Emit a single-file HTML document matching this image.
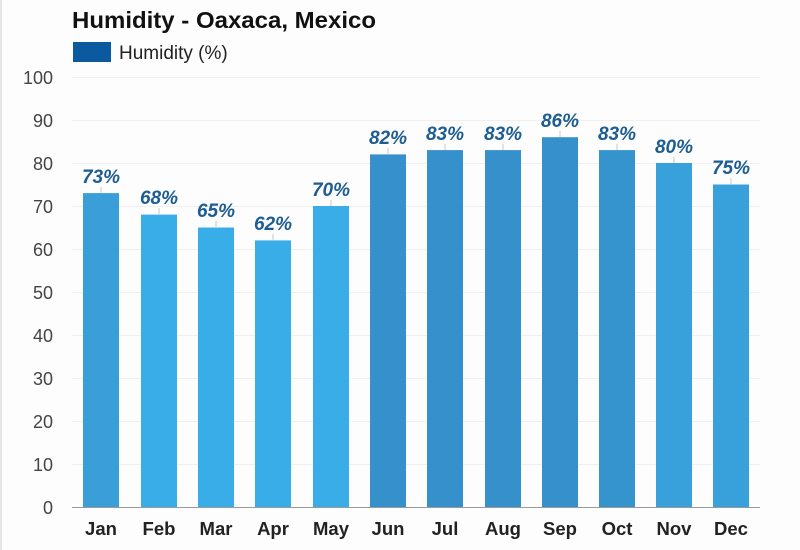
<!DOCTYPE html>
<html><head><meta charset="utf-8"><style>
html,body{margin:0;padding:0;background:#fff;}
svg{display:block;}
text{font-family:"Liberation Sans",Arial,sans-serif;}
</style></head><body>
<svg width="800" height="550" viewBox="0 0 800 550" xmlns="http://www.w3.org/2000/svg">
<rect x="0" y="0" width="800" height="550" fill="#fdfdfd"/>
<rect x="0" y="0" width="2" height="550" fill="#e6e6e6"/>
<text x="72" y="28" font-size="23" font-weight="bold" fill="#111" textLength="304" lengthAdjust="spacingAndGlyphs">Humidity - Oaxaca, Mexico</text>
<rect x="73" y="42" width="38" height="20" fill="#0b5aa0"/>
<text x="119" y="59" font-size="19" fill="#222">Humidity (%)</text>
<g stroke="#efefef" stroke-width="1">
<line x1="72" y1="77.5" x2="760" y2="77.5"/>
<line x1="72" y1="120.5" x2="760" y2="120.5"/>
<line x1="72" y1="163.5" x2="760" y2="163.5"/>
<line x1="72" y1="206.5" x2="760" y2="206.5"/>
<line x1="72" y1="249.5" x2="760" y2="249.5"/>
<line x1="72" y1="292.5" x2="760" y2="292.5"/>
<line x1="72" y1="335.5" x2="760" y2="335.5"/>
<line x1="72" y1="378.5" x2="760" y2="378.5"/>
<line x1="72" y1="421.5" x2="760" y2="421.5"/>
<line x1="72" y1="464.5" x2="760" y2="464.5"/>
</g>
<g font-size="18" fill="#444" text-anchor="end">
<text x="53" y="84">100</text>
<text x="53" y="127">90</text>
<text x="53" y="170">80</text>
<text x="53" y="213">70</text>
<text x="53" y="256">60</text>
<text x="53" y="299">50</text>
<text x="53" y="342">40</text>
<text x="53" y="385">30</text>
<text x="53" y="428">20</text>
<text x="53" y="471">10</text>
<text x="53" y="514">0</text>
</g>
<g>
<rect x="83" y="193.1" width="36" height="313.9" fill="#3a9fd9"/>
<rect x="141" y="214.6" width="36" height="292.4" fill="#38ade8"/>
<rect x="198" y="227.5" width="36" height="279.5" fill="#38ade8"/>
<rect x="255" y="240.4" width="36" height="266.6" fill="#38ade8"/>
<rect x="313" y="206" width="36" height="301" fill="#38ade8"/>
<rect x="370" y="154.4" width="36" height="352.6" fill="#3590cb"/>
<rect x="427" y="150.1" width="36" height="356.9" fill="#3590cb"/>
<rect x="485" y="150.1" width="36" height="356.9" fill="#3590cb"/>
<rect x="542" y="137.2" width="36" height="369.8" fill="#3590cb"/>
<rect x="599" y="150.1" width="36" height="356.9" fill="#3593cd"/>
<rect x="656" y="163" width="36" height="344" fill="#38a0da"/>
<rect x="713" y="184.5" width="36" height="322.5" fill="#38a0da"/>
</g>
<g stroke="#c8c8c8" stroke-width="1">
<line x1="101" y1="187" x2="101" y2="193"/>
<line x1="159" y1="208" x2="159" y2="214"/>
<line x1="216" y1="221" x2="216" y2="227"/>
<line x1="273" y1="234" x2="273" y2="240"/>
<line x1="331" y1="200" x2="331" y2="206"/>
<line x1="388" y1="148" x2="388" y2="154"/>
<line x1="445" y1="144" x2="445" y2="150"/>
<line x1="503" y1="144" x2="503" y2="150"/>
<line x1="560" y1="131" x2="560" y2="137"/>
<line x1="617" y1="144" x2="617" y2="150"/>
<line x1="674" y1="157" x2="674" y2="163"/>
<line x1="731" y1="178" x2="731" y2="184"/>
</g>
<g font-size="19" font-weight="bold" font-style="italic" fill="#1d5d91" text-anchor="middle">
<text x="101" y="183">73%</text>
<text x="159" y="204">68%</text>
<text x="216" y="217">65%</text>
<text x="273" y="230">62%</text>
<text x="331" y="196">70%</text>
<text x="388" y="144">82%</text>
<text x="445" y="140">83%</text>
<text x="503" y="140">83%</text>
<text x="560" y="127">86%</text>
<text x="617" y="140">83%</text>
<text x="674" y="153">80%</text>
<text x="731" y="174">75%</text>
</g>
<line x1="72" y1="507.5" x2="760" y2="507.5" stroke="#9a9a9a" stroke-width="1"/>
<g font-size="18.5" font-weight="bold" fill="#222" text-anchor="middle">
<text x="101" y="535">Jan</text>
<text x="159" y="535">Feb</text>
<text x="216" y="535">Mar</text>
<text x="273" y="535">Apr</text>
<text x="331" y="535">May</text>
<text x="388" y="535">Jun</text>
<text x="445" y="535">Jul</text>
<text x="503" y="535">Aug</text>
<text x="560" y="535">Sep</text>
<text x="617" y="535">Oct</text>
<text x="674" y="535">Nov</text>
<text x="731" y="535">Dec</text>
</g>
</svg>
</body></html>
